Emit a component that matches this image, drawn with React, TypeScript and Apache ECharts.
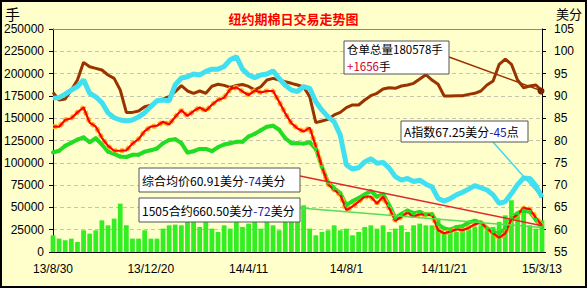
import React, { useEffect, useRef } from "react";
import * as echarts from "echarts";

// Weekly samples from 2013-08-30 to 2015-03-13 (81 weeks)
const startYear = 2013;
const startMonthIndex = 7; // August
const startDay = 30;
const tickLabels = ["13/8/30", "13/12/20", "14/4/11", "14/8/1", "14/11/21", "15/3/13"];

// 成交量 (手) — left axis
const volume = [
  18700, 15000, 13100, 15000, 11200, 24300, 20600, 24300, 35500, 29900, 37400, 54200, 29900, 15000, 15000, 24300, 15000, 15000, 26200, 29900, 30700,
  29900, 33700, 37400, 28100, 39300, 26200, 22400, 29900, 26200, 34400, 28100, 31800, 33700, 26200, 35500, 29900, 24300, 33700, 37400, 44900,
  52400, 26200, 18700, 22400, 24300, 29900, 24300, 26200, 18700, 22400, 28100, 29900, 26200, 29900, 22400, 26200, 29900, 22400, 29900, 31800, 29900,
  29900, 37400, 20600, 24300, 22400, 26200, 29900, 28100, 29900, 24300, 28100, 33700, 41100, 58000, 44900, 50500, 29900, 26200, 35500,
];

// 仓单总量 (手) — left axis
const stockTotal = [
  179000, 170300, 171500, 181600, 192800, 212600, 207700, 205900, 204000, 198400, 194600, 181600, 156500, 156500, 158000, 162900, 164700, 168500, 171500, 174100, 179700,
  186500, 180500, 177900, 180500, 178000, 185800, 188100, 186800, 184600, 186700, 187800, 185600, 181700, 185300, 192800, 194700, 192800, 190900, 189100, 187200,
  185000, 174200, 145000, 146800, 148700, 153600, 156500, 161800, 164800, 164800, 170400, 175200, 177900, 182700, 184200, 183500, 186100, 187200, 189100, 194000, 198800,
  192800, 188000, 174900, 174900, 175200, 175200, 176700, 177900, 180500, 187200, 191700, 210400, 216300, 210400, 192800, 184200, 186100, 187200, 180578,
];

// A指数 (美分) — right axis
const indexA = [
  89.5, 89.6, 90.4, 91.3, 92.1, 93.6, 90.6, 89.8, 88.5, 86.2, 85.1, 84.6, 84.4, 84.6, 85.3, 86.2, 87.6, 88.9, 89.1, 88.9, 92.5,
  94.0, 94.3, 94.9, 94.7, 95.5, 96.0, 96.0, 96.6, 98.1, 98.8, 96.0, 94.7, 94.1, 94.7, 94.9, 95.6, 93.9, 92.4, 91.3, 91.0,
  92.1, 91.7, 88.7, 86.8, 85.3, 84.2, 81.2, 74.5, 73.6, 73.9, 75.2, 75.9, 74.9, 75.1, 73.8, 71.9, 71.1, 71.5, 70.8, 71.1, 70.2,
  69.6, 67.0, 66.4, 67.0, 67.8, 68.4, 69.1, 69.9, 69.4, 68.9, 67.8, 65.9, 66.3, 68.1, 70.1, 71.6, 71.5, 69.9, 67.25,
];

// 综合均价 (美分) — right axis
const avgPrice = [
  83.1, 83.1, 84.6, 85.0, 86.3, 87.4, 84.0, 83.1, 80.6, 78.8, 77.7, 77.7, 77.8, 79.3, 80.3, 82.1, 83.1, 83.3, 84.2, 83.6, 85.3,
  86.8, 85.5, 86.6, 87.4, 86.6, 88.0, 89.1, 89.6, 91.5, 91.9, 91.0, 90.2, 91.2, 90.8, 91.1, 91.1, 88.7, 86.1, 83.9, 82.7,
  82.0, 82.9, 78.7, 74.1, 70.2, 68.9, 67.8, 64.4, 65.2, 66.3, 67.4, 67.4, 65.9, 67.4, 64.8, 62.0, 62.9, 63.9, 62.9, 63.5, 63.3,
  63.4, 59.9, 59.2, 59.6, 60.1, 59.9, 60.4, 61.2, 61.6, 60.3, 59.2, 58.2, 59.2, 62.4, 63.4, 64.9, 64.6, 62.7, 60.91,
];

// 1505合约 (美分) — right axis
const contract1505 = [
  77.3, 77.7, 78.8, 79.5, 80.2, 80.7, 79.6, 80.5, 79.1, 77.5, 77.0, 76.4, 76.3, 76.8, 76.8, 77.5, 77.8, 78.2, 79.4, 80.1, 80.3,
  79.4, 77.3, 77.6, 78.1, 78.1, 77.6, 78.5, 79.1, 79.4, 79.7, 79.7, 80.9, 81.5, 82.3, 83.1, 83.3, 82.4, 80.5, 79.4, 79.4,
  79.3, 79.6, 78.1, 74.1, 70.6, 69.3, 68.2, 65.5, 66.4, 67.1, 67.9, 68.7, 67.4, 68.0, 65.5, 62.7, 63.5, 64.3, 63.7, 64.0, 63.4,
  63.5, 61.2, 60.3, 60.0, 60.6, 60.8, 61.6, 62.0, 61.6, 60.3, 59.6, 59.0, 60.3, 62.6, 63.7, 64.3, 64.0, 62.2, 60.5,
];

const categories = volume.map((_, i) => {
  const d = new Date(Date.UTC(startYear, startMonthIndex, startDay) + i * 7 * 86400000);
  return `${d.getUTCFullYear() % 100}/${d.getUTCMonth() + 1}/${d.getUTCDate()}`;
});

const BG = "#FFFFCC";
const FONT = "'Liberation Sans', 'Noto Sans CJK SC', sans-serif";
const CJK = "'Noto Sans CJK SC', sans-serif";

export default function App() {
  const ref = useRef<HTMLDivElement>(null);

  useEffect(() => {
    if (!ref.current) return;
    const chart = echarts.init(ref.current, null, { renderer: "svg" });
    const option: any = {
      animation: false,
      backgroundColor: BG,
      title: {
        text: "纽约期棉日交易走势图",
        left: "center",
        top: 7,
        textStyle: { color: "#FF0000", fontSize: 13, fontWeight: "bold", fontFamily: CJK },
      },
      grid: { left: 53, right: 45, top: 29, bottom: 36, containLabel: false },
      xAxis: [
        {
          type: "category",
          data: categories,
          boundaryGap: false,
          axisLine: { lineStyle: { color: "#000", width: 1 } },
          axisTick: { show: true, inside: true, interval: 15, length: 4, lineStyle: { color: "#000" } },
          axisLabel: {
            interval: 15,
            margin: 11,
            color: "#000",
            fontSize: 12,
            fontFamily: FONT,
            formatter: (v: string, idx: number) => (idx % 16 === 0 ? tickLabels[idx / 16] : v),
          },
          splitLine: { show: false },
        },
        {
          type: "category",
          data: categories,
          position: "top",
          boundaryGap: false,
          axisLine: { lineStyle: { color: "#8C8C70", width: 1 } },
          axisTick: { show: false },
          axisLabel: { show: false },
        },
      ],
      yAxis: [
        {
          type: "value",
          min: 0,
          max: 250000,
          interval: 25000,
          axisLine: { show: true, lineStyle: { color: "#000" } },
          axisTick: { show: true, length: 4, lineStyle: { color: "#000" } },
          axisLabel: {
            margin: 9,
            color: "#000",
            fontSize: 12,
            fontFamily: FONT,
            formatter: (v: number) => String(v),
          },
          splitLine: { show: true, lineStyle: { color: "#C4C4B0", type: [4, 3] } },
        },
        {
          type: "value",
          min: 55,
          max: 105,
          interval: 5,
          position: "right",
          axisLine: { show: true, lineStyle: { color: "#000" } },
          axisTick: { show: true, length: 4, lineStyle: { color: "#000" } },
          axisLabel: { margin: 12, color: "#000", fontSize: 12, fontFamily: FONT },
          splitLine: { show: false },
        },
      ],
      series: [
        {
          name: "成交量",
          type: "bar",
          data: volume,
          yAxisIndex: 0,
          barCategoryGap: "22%",
          itemStyle: { color: "#33EE22" },
        },
        {
          name: "仓单总量",
          type: "line",
          data: stockTotal,
          yAxisIndex: 0,
          showSymbol: false,
          lineStyle: { color: "#993300", width: 3 },
        },
        {
          name: "A指数",
          type: "line",
          data: indexA,
          yAxisIndex: 1,
          showSymbol: false,
          lineStyle: { color: "#40E0F0", width: 5 },
        },
        {
          name: "1505合约",
          type: "line",
          data: contract1505,
          yAxisIndex: 1,
          showSymbol: true,
          symbol: "circle",
          symbolSize: 4,
          itemStyle: { color: "#22DD22" },
          lineStyle: { color: "#22DD22", width: 4 },
        },
        {
          name: "综合均价-边",
          type: "line",
          data: avgPrice,
          yAxisIndex: 1,
          showSymbol: false,
          lineStyle: { color: "#FFB020", width: 5, type: [4, 3] },
        },
        {
          name: "综合均价",
          type: "line",
          data: avgPrice,
          yAxisIndex: 1,
          showSymbol: false,
          lineStyle: { color: "#FF0000", width: 2.2 },
        },
      ],
    };
    chart.setOption(option);

    const last = categories.length - 1;
    const pStock = chart.convertToPixel({ xAxisIndex: 0, yAxisIndex: 0 }, [last, stockTotal[last]]) as number[];
    const pIndex = chart.convertToPixel({ xAxisIndex: 0, yAxisIndex: 1 }, [last, indexA[last]]) as number[];
    const pAvg = chart.convertToPixel({ xAxisIndex: 0, yAxisIndex: 1 }, [last, avgPrice[last]]) as number[];
    const pCon = chart.convertToPixel({ xAxisIndex: 0, yAxisIndex: 1 }, [last, contract1505[last]]) as number[];

    const mkRich = (size: number) => ({
      b: { fill: "#000000", fontSize: size, fontFamily: CJK },
      r: { fill: "#CC0033", fontSize: size, fontFamily: CJK },
      u: { fill: "#1A1AAA", fontSize: size, fontFamily: CJK },
    });
    const box = (x: number, y: number, w: number, h: number) => ({
      type: "rect",
      z: 101,
      shape: { x, y, width: w, height: h },
      style: { fill: "#FFFFFF", stroke: "#555555", lineWidth: 1 },
    });
    const line = (x1: number, y1: number, p: number[], color: string) => ({
      type: "line",
      z: 100,
      shape: { x1, y1, x2: p[0], y2: p[1] },
      style: { stroke: color, lineWidth: 1.5 },
    });
    const label = (x: number, y: number, text: string, size = 12) => ({
      type: "text",
      z: 102,
      x,
      y,
      style: { text, rich: mkRich(size), verticalAlign: "middle" },
    });

    chart.setOption({
      graphic: [
        {
          type: "rect",
          z: 200,
          shape: { x: 1, y: 1, width: 585, height: 286 },
          style: { fill: "none", stroke: "#000", lineWidth: 2 },
        },
        { type: "text", z: 101, x: 5, y: 6, style: { text: "手", fontSize: 15, fill: "#000", fontFamily: CJK } },
        { type: "text", z: 101, x: 556, y: 7, style: { text: "美分", fontSize: 13, fill: "#000", fontFamily: CJK } },

        line(449, 57, pStock, "#993300"),
        { type: "circle", z: 100, shape: { cx: pStock[0] - 1, cy: pStock[1], r: 3.5 }, style: { fill: "#7A2200" } },
        line(493, 142, pIndex, "#40D8E8"),
        line(300, 176, pAvg, "#E02828"),
        line(300, 208, pCon, "#55DD55"),

        box(344, 41, 105, 33),
        label(347, 48.5, "{b|仓单总量180578手}", 11.5),
        label(347, 65.5, "{r|+1656}{b|手}", 11.5),
        box(401, 121, 127, 21),
        label(404, 131.5, "{b|A指数67.25美分}{u|-45}{b|点}"),
        box(139, 168, 161, 24),
        label(142, 180, "{b|综合均价60.91美分}{u|-74}{b|美分}"),
        box(139, 198, 161, 24),
        label(142, 210, "{b|1505合约660.50美分}{u|-72}{b|美分}"),
      ],
    });

    return () => chart.dispose();
  }, []);

  return (
    <div
      ref={ref}
      style={{ position: "fixed", left: 0, top: 0, width: 587, height: 288, background: BG }}
    />
  );
}
